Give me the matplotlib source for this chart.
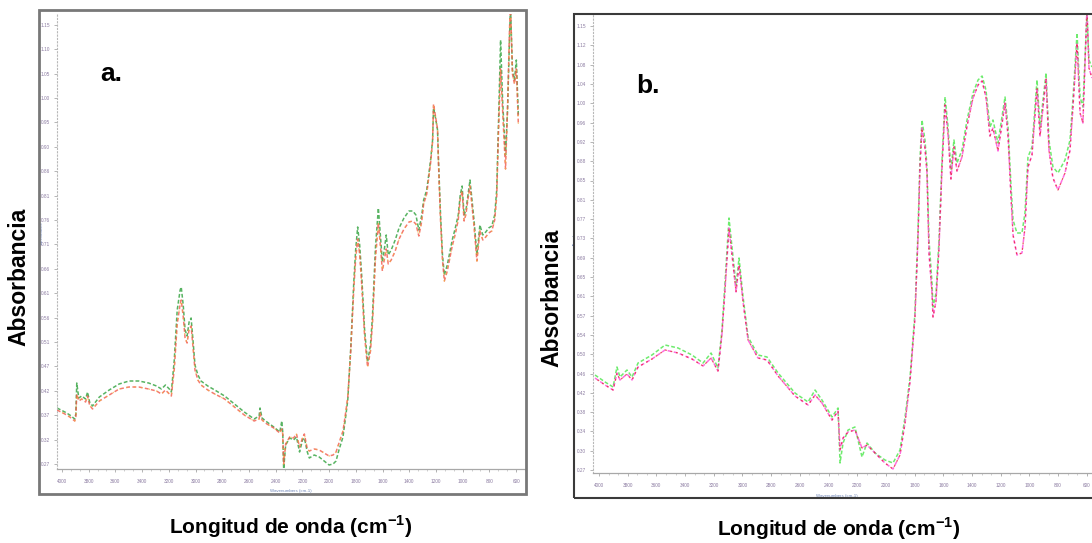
import matplotlib
matplotlib.use("Agg")
import matplotlib.pyplot as plt
import matplotlib as mpl
import numpy as np
from matplotlib.patches import Rectangle

mpl.rcParams['font.family'] = ['Liberation Sans', 'DejaVu Sans']
mpl.rcParams['mathtext.fontset'] = 'custom'
mpl.rcParams['mathtext.rm'] = 'Liberation Sans'
mpl.rcParams['mathtext.bf'] = 'Liberation Sans:bold'

# ---- panel a: wavenumber (cm-1) and absorbance of the two spectra ----
wn_a = [4037, 3978, 3941, 3904, 3896, 3889, 3874, 3852, 3823, 3808,
        3793, 3771, 3720, 3646, 3572, 3498, 3424, 3351, 3292, 3255,
        3225, 3196, 3181, 3159, 3137, 3115, 3107, 3092, 3078, 3063,
        3048, 3033, 3019, 3004, 2982, 2959, 2908, 2856, 2782, 2709,
        2635, 2561, 2524, 2517, 2502, 2465, 2414, 2369, 2354, 2347,
        2340, 2325, 2295, 2266, 2244, 2221, 2199, 2185, 2163, 2148,
        2111, 2074, 2037, 2000, 1970, 1948, 1926, 1896, 1874, 1860,
        1838, 1815, 1801, 1786, 1771, 1756, 1734, 1712, 1690, 1675,
        1653, 1631, 1616, 1601, 1587, 1572, 1557, 1535, 1505, 1476,
        1439, 1402, 1373, 1350, 1328, 1306, 1292, 1269, 1255, 1240,
        1225, 1218, 1203, 1188, 1181, 1166, 1151, 1137, 1115, 1100,
        1078, 1055, 1033, 1018, 1004, 989, 975, 960, 945, 930,
        915, 893, 871, 849, 827, 805, 782, 760, 745, 731,
        716, 701, 679, 664, 649, 642, 627, 612, 598, 583]
green_a = [0.122, 0.114, 0.108, 0.100, 0.110, 0.172, 0.142, 0.146, 0.140, 0.154,
           0.134, 0.126, 0.144, 0.158, 0.170, 0.176, 0.176, 0.172, 0.166, 0.160,
           0.168, 0.160, 0.154, 0.218, 0.318, 0.358, 0.364, 0.328, 0.278, 0.266,
           0.294, 0.302, 0.258, 0.208, 0.188, 0.176, 0.166, 0.158, 0.146, 0.130,
           0.114, 0.100, 0.106, 0.122, 0.102, 0.094, 0.084, 0.074, 0.096, 0.074,
           0.000, 0.048, 0.062, 0.058, 0.064, 0.034, 0.058, 0.062, 0.034, 0.022,
           0.028, 0.024, 0.016, 0.008, 0.010, 0.016, 0.038, 0.064, 0.108, 0.138,
           0.240, 0.374, 0.438, 0.484, 0.448, 0.388, 0.278, 0.214, 0.248, 0.306,
           0.442, 0.522, 0.468, 0.414, 0.438, 0.468, 0.428, 0.438, 0.458, 0.482,
           0.502, 0.516, 0.516, 0.508, 0.478, 0.508, 0.538, 0.558, 0.586, 0.618,
           0.658, 0.722, 0.702, 0.678, 0.618, 0.512, 0.428, 0.388, 0.408, 0.428,
           0.458, 0.482, 0.508, 0.548, 0.566, 0.508, 0.518, 0.548, 0.578, 0.538,
           0.498, 0.428, 0.488, 0.468, 0.474, 0.482, 0.486, 0.508, 0.558, 0.698,
           0.858, 0.738, 0.628, 0.718, 0.858, 0.928, 0.798, 0.778, 0.818, 0.708]
red_a = [0.118, 0.110, 0.104, 0.096, 0.104, 0.150, 0.136, 0.140, 0.134, 0.146,
         0.128, 0.120, 0.136, 0.148, 0.160, 0.164, 0.164, 0.160, 0.156, 0.150,
         0.158, 0.150, 0.146, 0.200, 0.290, 0.330, 0.338, 0.305, 0.262, 0.252,
         0.280, 0.286, 0.245, 0.198, 0.178, 0.168, 0.158, 0.150, 0.140, 0.124,
         0.108, 0.096, 0.100, 0.112, 0.098, 0.090, 0.082, 0.072, 0.080, 0.070,
         0.010, 0.050, 0.064, 0.062, 0.070, 0.044, 0.062, 0.070, 0.040, 0.036,
         0.040, 0.038, 0.032, 0.026, 0.028, 0.034, 0.052, 0.076, 0.116, 0.144,
         0.236, 0.360, 0.420, 0.460, 0.430, 0.370, 0.266, 0.204, 0.236, 0.292,
         0.420, 0.492, 0.448, 0.396, 0.418, 0.440, 0.410, 0.418, 0.436, 0.460,
         0.480, 0.494, 0.496, 0.490, 0.466, 0.496, 0.530, 0.550, 0.580, 0.612,
         0.655, 0.730, 0.705, 0.680, 0.612, 0.500, 0.418, 0.376, 0.396, 0.416,
         0.446, 0.470, 0.498, 0.540, 0.556, 0.496, 0.510, 0.540, 0.566, 0.526,
         0.486, 0.416, 0.476, 0.458, 0.464, 0.472, 0.476, 0.498, 0.545, 0.680,
         0.800, 0.720, 0.600, 0.720, 0.880, 0.930, 0.790, 0.770, 0.800, 0.690]

# ---- panel b ----
wn_b = [4028, 3958, 3902, 3875, 3854, 3805, 3770, 3728, 3631, 3540,
        3449, 3352, 3275, 3219, 3171, 3143, 3122, 3094, 3066, 3045,
        3024, 2996, 2961, 2892, 2829, 2752, 2634, 2543, 2494, 2446,
        2376, 2334, 2320, 2299, 2264, 2216, 2167, 2132, 2076, 2007,
        1951, 1902, 1867, 1832, 1798, 1777, 1763, 1749, 1728, 1714,
        1700, 1679, 1672, 1651, 1630, 1609, 1588, 1567, 1547, 1526,
        1505, 1470, 1435, 1393, 1358, 1330, 1303, 1275, 1254, 1219,
        1184, 1170, 1149, 1128, 1114, 1087, 1052, 1031, 1010, 982,
        947, 926, 905, 884, 864, 836, 801, 752, 717, 697,
        668, 647, 627, 599, 585, 564]
green_b = [0.196, 0.182, 0.172, 0.212, 0.192, 0.206, 0.192, 0.220, 0.236, 0.256,
           0.250, 0.236, 0.220, 0.240, 0.210, 0.286, 0.380, 0.510, 0.432, 0.376,
           0.430, 0.352, 0.272, 0.236, 0.232, 0.200, 0.160, 0.142, 0.166, 0.146,
           0.112, 0.130, 0.020, 0.060, 0.086, 0.092, 0.032, 0.060, 0.040, 0.026,
           0.020, 0.046, 0.112, 0.192, 0.320, 0.480, 0.626, 0.706, 0.666, 0.612,
           0.466, 0.380, 0.332, 0.360, 0.466, 0.626, 0.752, 0.692, 0.606, 0.666,
           0.620, 0.646, 0.706, 0.760, 0.786, 0.794, 0.766, 0.692, 0.706, 0.660,
           0.726, 0.752, 0.692, 0.572, 0.506, 0.480, 0.480, 0.520, 0.632, 0.652,
           0.786, 0.692, 0.746, 0.800, 0.666, 0.612, 0.600, 0.626, 0.666, 0.746,
           0.880, 0.752, 0.732, 0.920, 0.826, 0.812]
red_b = [0.190, 0.176, 0.166, 0.200, 0.186, 0.198, 0.186, 0.212, 0.228, 0.246,
         0.240, 0.228, 0.214, 0.230, 0.204, 0.278, 0.366, 0.490, 0.418, 0.362,
         0.416, 0.342, 0.266, 0.230, 0.226, 0.194, 0.154, 0.136, 0.156, 0.140,
         0.106, 0.124, 0.046, 0.070, 0.082, 0.086, 0.050, 0.056, 0.040, 0.020,
         0.008, 0.036, 0.100, 0.184, 0.310, 0.468, 0.610, 0.690, 0.650, 0.600,
         0.440, 0.360, 0.312, 0.344, 0.452, 0.612, 0.736, 0.676, 0.588, 0.652,
         0.604, 0.632, 0.694, 0.750, 0.776, 0.784, 0.752, 0.674, 0.690, 0.644,
         0.712, 0.740, 0.674, 0.550, 0.476, 0.436, 0.440, 0.490, 0.612, 0.636,
         0.770, 0.674, 0.732, 0.790, 0.646, 0.590, 0.566, 0.600, 0.646, 0.730,
         0.860, 0.720, 0.700, 0.930, 0.810, 0.790]


def style_axes(ax, xlim, ylim, yticks):
    ax.set_xlim(*xlim)
    ax.set_ylim(*ylim)
    ax.set_facecolor('none')
    for s in ['top', 'right']:
        ax.spines[s].set_visible(False)
    ax.spines['bottom'].set_color('#a8a8a8')
    ax.spines['bottom'].set_linewidth(0.9)
    ax.spines['left'].set_color('#b8b8b8')
    ax.spines['left'].set_linestyle((0, (1, 2)))
    ax.spines['left'].set_linewidth(0.8)
    ax.set_xticks(np.arange(4000, 500, -200))
    ax.set_xticks(np.arange(4000, 500, -66.67), minor=True)
    ax.set_xticklabels([str(int(v)) for v in np.arange(4000, 500, -200)])
    ax.set_yticks(yticks)
    ax.set_yticklabels(['%.2f' % (v + 0.26) for v in yticks])
    ax.tick_params(axis='both', which='major', labelsize=3.4, length=2,
                   width=0.5, color='#999999', labelcolor='#8a7aa0', pad=3)
    ax.tick_params(axis='x', which='minor', length=1.5, width=0.4,
                   color='#aaaaaa')
    ax.tick_params(axis='x', pad=5)


fig = plt.figure(figsize=(10.92, 5.43), dpi=100)
W, H = 1092.0, 543.0

# outer frames of the two pictures
fig.add_artist(Rectangle((39 / W, 1 - 494 / H), 487 / W, 484 / H,
                         transform=fig.transFigure, fill=False,
                         edgecolor='#787878', linewidth=2.0))
fig.add_artist(Rectangle((574 / W, 1 - 498 / H), 540 / W, 484 / H,
                         transform=fig.transFigure, fill=False,
                         edgecolor='#3a3a3a', linewidth=1.5))

# panel a
ax1 = fig.add_axes([57 / W, 1 - 469 / H, 468 / W, 455 / H])
style_axes(ax1, (4037, 583), (0, 0.91), np.arange(0.01, 0.90, 0.0488))
ax1.plot(wn_a, green_a, color='#3aa646', lw=1.1, ls=(0, (2.5, 1.4)), alpha=0.85)
ax1.plot(wn_a, red_a, color='#f25a4a', lw=1.1, ls=(0, (2.5, 1.6)), alpha=0.8)
ax1.plot(wn_a, red_a, color='#f2b040', lw=0.9, ls=(1.5, (1, 5)), alpha=0.75)
ax1.text(0.5, -0.045, 'Wavenumbers (cm-1)', transform=ax1.transAxes,
         fontsize=3.2, color='#6f86b8', ha='center', va='top')
ax1.text(-0.032, 0.52, 'Absorbance', transform=ax1.transAxes, rotation=90,
         fontsize=3.2, color='#6f86b8', ha='center', va='center')

# panel b
ax2 = fig.add_axes([593 / W, 1 - 473 / H, 507 / W, 458 / H])
style_axes(ax2, (4042, 508), (0, 0.916), np.arange(0.006, 0.90, 0.0386))
ax2.plot(wn_b, green_b, color='#55e855', lw=1.1, ls=(0, (2.5, 1.4)), alpha=0.85)
ax2.plot(wn_b, red_b, color='#ff4ad8', lw=1.1, ls=(0, (2.5, 1.6)), alpha=0.8)
ax2.plot(wn_b, red_b, color='#e8283c', lw=0.9, ls=(2, (1.5, 3)), alpha=0.8)
ax2.text(0.48, -0.045, 'Wavenumbers (cm-1)', transform=ax2.transAxes,
         fontsize=3.2, color='#6f86b8', ha='center', va='top')
ax2.text(-0.036, 0.52, 'Absorbance', transform=ax2.transAxes, rotation=90,
         fontsize=3.2, color='#6f86b8', ha='center', va='center')

# panel letters and big labels
fig.text(111 / W, 1 - 74 / H, 'a.', fontsize=19, fontweight='bold',
         ha='center', va='center')
fig.text(648 / W, 1 - 86 / H, 'b.', fontsize=19, fontweight='bold',
         ha='center', va='center')

xlab = r'Longitud de onda (cm$^{\mathbf{-1}}$)'
fig.text(291 / W, 1 - 527 / H, xlab, fontsize=15, fontweight='bold',
         ha='center', va='center')
fig.text(839 / W, 1 - 529 / H, xlab, fontsize=15, fontweight='bold',
         ha='center', va='center')
fig.text(19 / W, 1 - 277 / H, 'Absorbancia', fontsize=16.5, fontweight='bold',
         rotation=90, ha='center', va='center')
fig.text(552 / W, 1 - 298 / H, 'Absorbancia', fontsize=16.5, fontweight='bold',
         rotation=90, ha='center', va='center')

fig.savefig('out.png', dpi=100)
